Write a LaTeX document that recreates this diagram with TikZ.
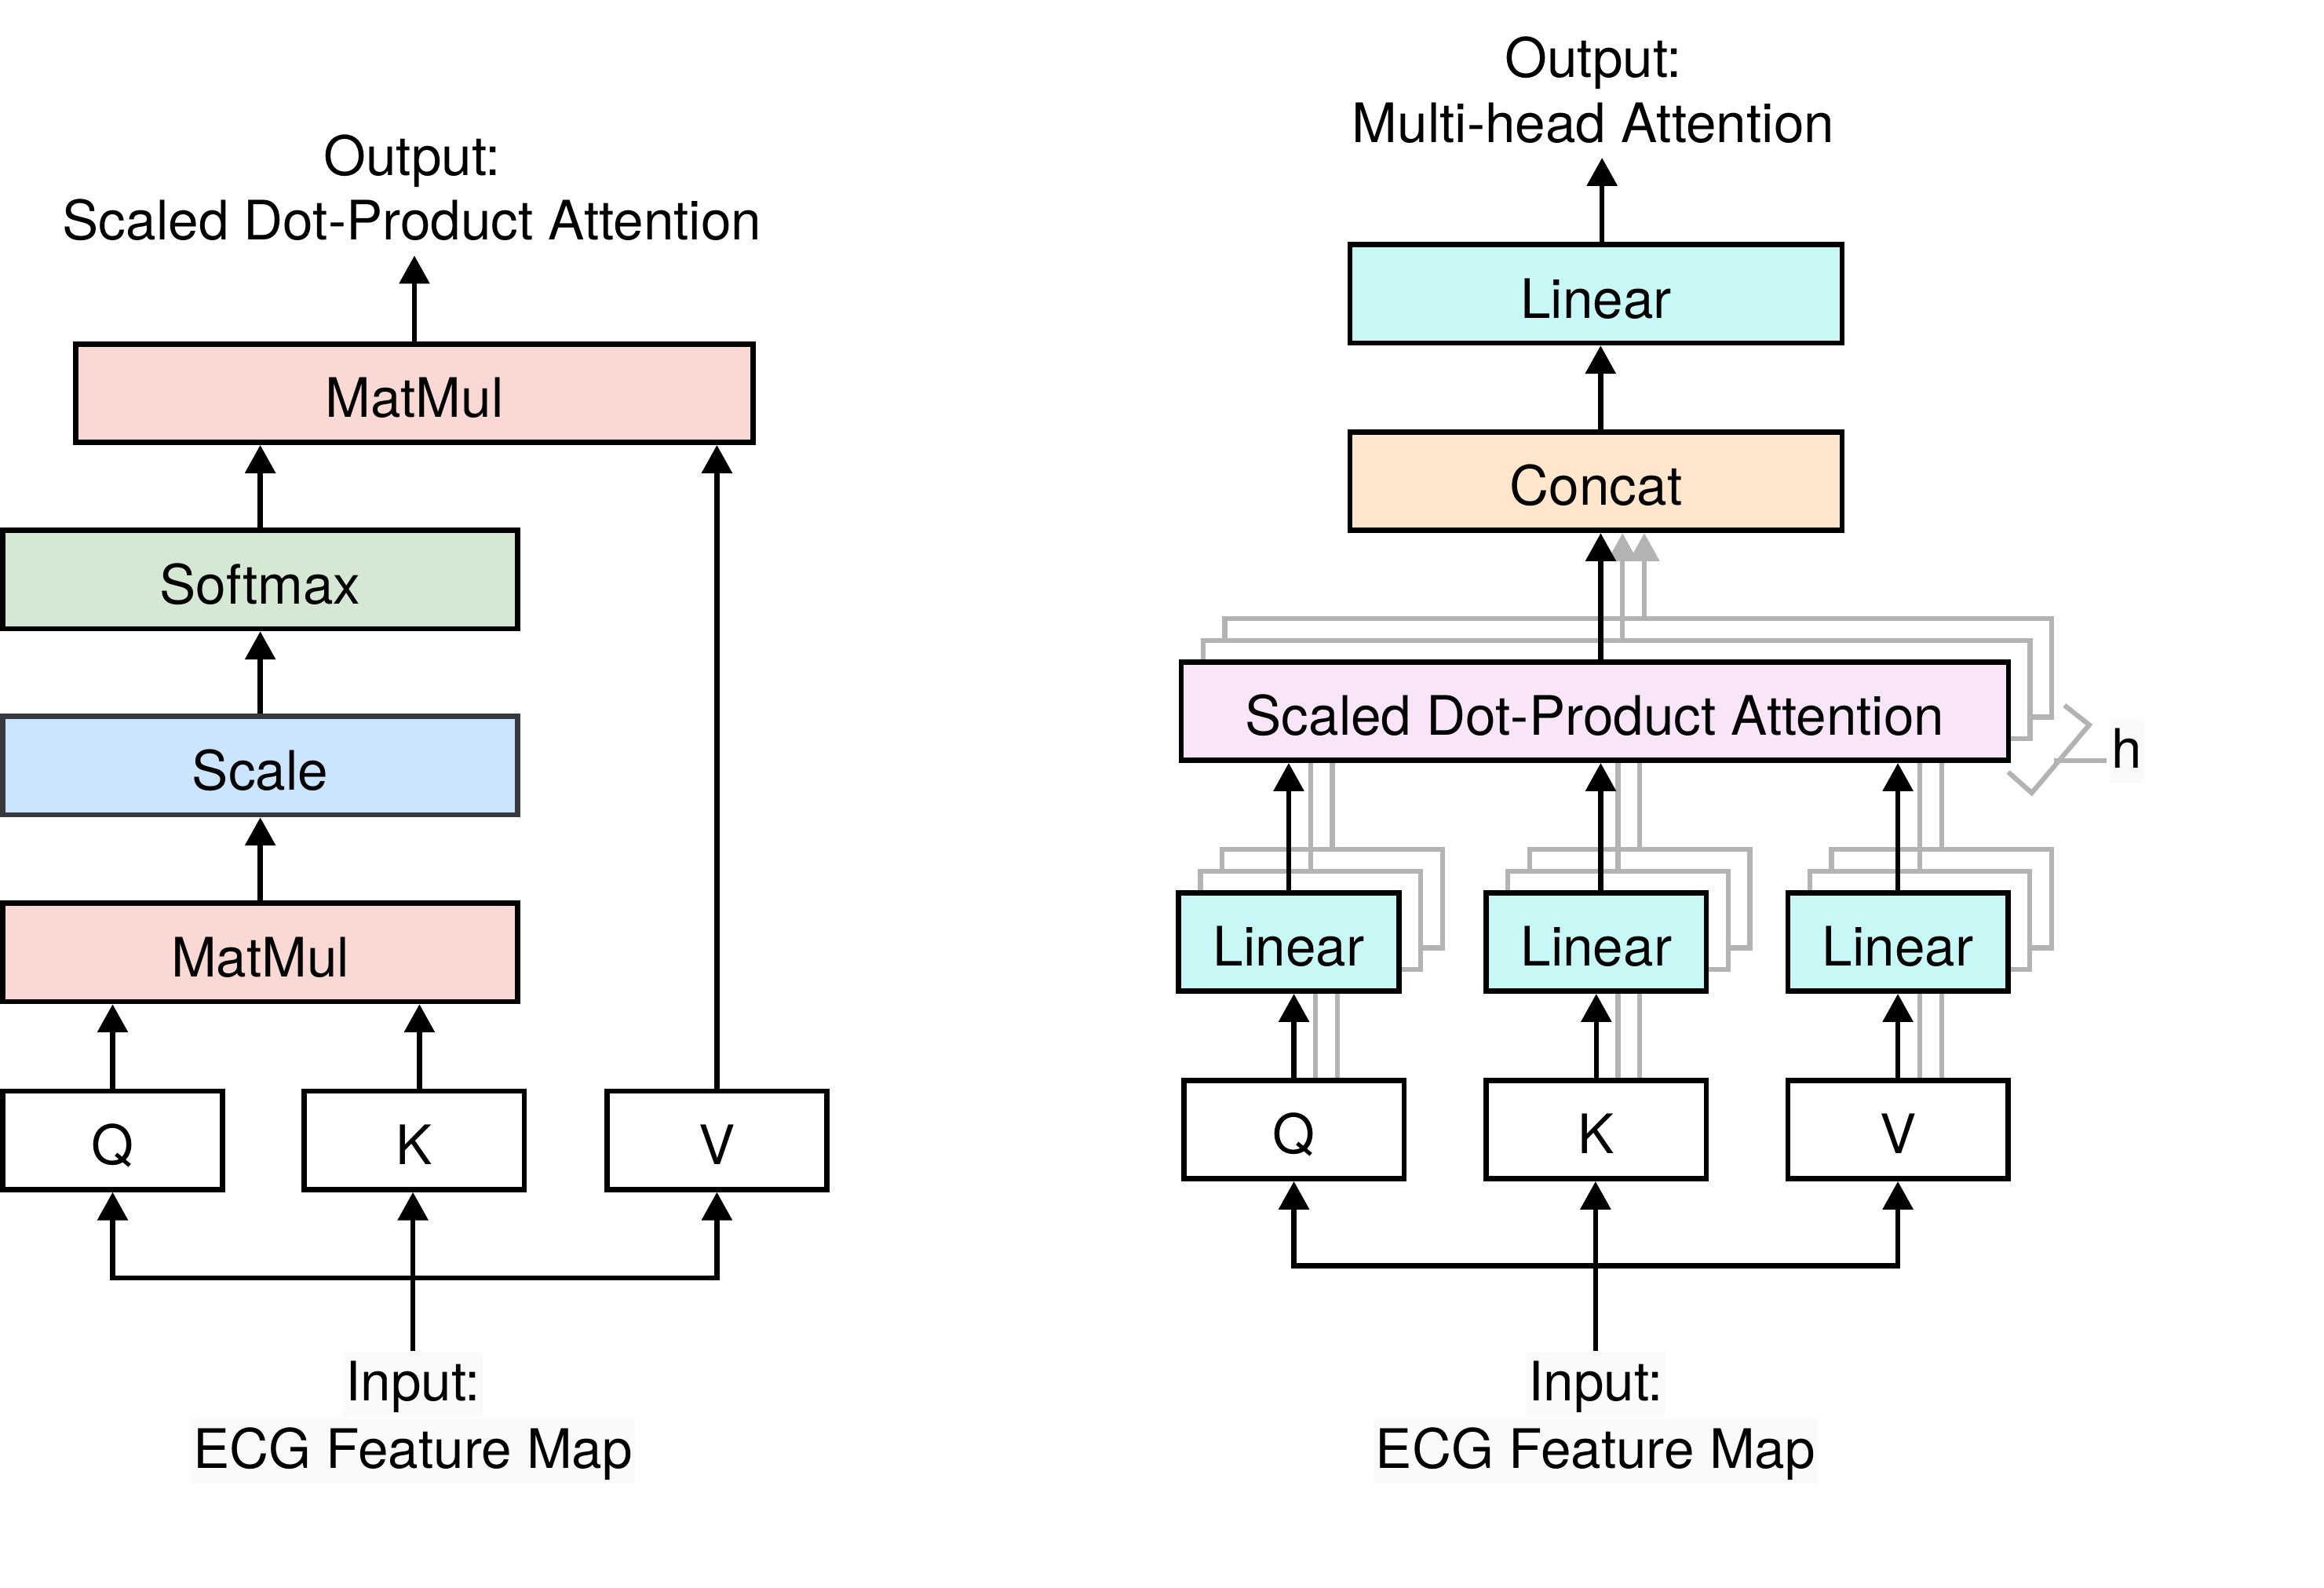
\documentclass[tikz,border=0pt]{standalone}
\usepackage{fontspec}
\setmainfont{TeX Gyre Heros}
\usetikzlibrary{arrows.meta,calc}
\definecolor{mmfill}{HTML}{FAD9D5}
\definecolor{smfill}{HTML}{D5E8D4}
\definecolor{scfill}{HTML}{CCE5FF}
\definecolor{scdraw}{HTML}{36393D}
\definecolor{linfill}{HTML}{C7F8F6}
\definecolor{catfill}{HTML}{FFE6CC}
\definecolor{sdfill}{HTML}{F8E6F8}
\definecolor{shade}{HTML}{B3B3B3}
\definecolor{lblbg}{HTML}{FAFAFA}
\begin{document}
\begin{tikzpicture}[x=1pt,y=-1pt,
  box/.style={draw=black, line width=3.5pt, inner sep=0pt, minimum height=66.3pt,
    text height=34pt, text depth=1.4pt, font=\fontsize{36.7}{44}\selectfont},
  ghost/.style={draw=shade, fill=white, line width=3.3pt, inner sep=0pt, minimum height=66.3pt},
  lbl/.style={inner xsep=1.5pt, inner ysep=2.5pt, text height=31pt, text depth=7.8pt,
    anchor=base, font=\fontsize{36.7}{44}\selectfont},
  arr/.style={line width=3.5pt, -{Triangle[length=19pt,width=20pt]}},
  garr/.style={draw=shade, line width=3.3pt, -{Triangle[length=19pt,width=20pt]}},
  gline/.style={draw=shade, line width=3.3pt}
]
\useasboundingbox (0,0) rectangle (1568,1071);

% ---------------- left: scaled dot-product attention ----------------
\node[box, fill=mmfill, minimum width=456.8pt] (mm2) at (279.6,265.3) {MatMul};
\node[box, fill=smfill, minimum width=347.5pt] (sm) at (175.6,391) {Softmax};
\node[box, fill=scfill, draw=scdraw, minimum width=347.5pt] (sc) at (175.6,516.5) {Scale};
\node[box, fill=mmfill, minimum width=347.5pt] (mm1) at (175.6,642.5) {MatMul};
\node[box, fill=white, minimum width=148.5pt] (qL) at (76,769.3) {Q};
\node[box, fill=white, minimum width=148.5pt] (kL) at (279.5,769.3) {K};
\node[box, fill=white, minimum width=148.5pt] (vL) at (483.7,769.3) {V};

\node[lbl] (outL1) at (278,118.2) {Output:};
\node[lbl] (outL2) at (278,161.9) {Scaled Dot-Product Attention};
\node[lbl, fill=lblbg] (inL1) at (278.6,945.2) {Input:};
\node[lbl, fill=lblbg] (inL2) at (278.6,990.6) {ECG Feature Map};

\draw[arr] (mm2.north) -- (mm2.north |- outL2.south);
\draw[arr] (sm.north) -- (sm.north |- mm2.south);
\draw[arr] (sc.north) -- (sm.south);
\draw[arr] (mm1.north) -- (sc.south);
\draw[arr] (qL.north) -- (qL.north |- mm1.south);
\draw[arr] ([xshift=3.5pt]kL.north) -- ([xshift=3.5pt]kL.north |- mm1.south);
\draw[arr] (vL.north) -- (vL.north |- mm2.south);
\coordinate (jL) at (278.6,862);
\draw[arr] (inL1.north) -- (inL1.north |- kL.south);
\draw[arr] (jL) -| (qL.south);
\draw[arr] (jL) -| (vL.south);

% ---------------- right: multi-head attention ----------------
\node[box, fill=linfill, minimum width=332pt] (linT) at (1076.9,198.2) {Linear};
\node[box, fill=catfill, minimum width=332pt] (cat) at (1076.9,324.7) {Concat};

\node[ghost, minimum width=558pt] (sdS2) at (1105.4,450.6) {};
\node[ghost, minimum width=558pt] (sdS1) at (1090.7,465.2) {};

\foreach \i/\lx/\qx/\t in {1/869.5/873/Q, 2/1077/1077/K, 3/1280.5/1280.5/V} {
  \node[ghost, minimum width=148.5pt] (lsB\i) at (\lx+29.4,635.5-29.2) {};
  \node[ghost, minimum width=148.5pt] (lsA\i) at (\lx+14.7,635.5-14.6) {};
  \node[box, fill=white, minimum width=148.5pt] (in\i) at (\qx,762) {\t};
  \draw[gline] ([xshift=14.7pt]in\i.north) -- ([xshift=14.7pt]in\i.north |- lsA\i.south);
  \draw[gline] ([xshift=29.4pt]in\i.north) -- ([xshift=29.4pt]in\i.north |- lsB\i.south);
  \draw[gline] (lsA\i.north) -- (lsA\i.north |- sdS1.south);
  \draw[gline] (lsB\i.north) -- (lsB\i.north |- sdS2.south);
  \node[box, fill=linfill, minimum width=148.5pt] (lin\i) at (\lx,635.5) {Linear};
}

\node[box, fill=sdfill, minimum width=558pt] (sd) at (1076,479.8) {Scaled Dot-Product Attention};

\draw[garr] ([xshift=33.4pt]sd.north |- sdS2.north) -- ([xshift=33.4pt]sd.north |- cat.south);
\draw[garr] ([xshift=18.7pt]sd.north |- sdS1.north) -- ([xshift=18.7pt]sd.north |- cat.south);

\node[lbl] (outR1) at (1075,52.2) {Output:};
\node[lbl] (outR2) at (1075,95.9) {Multi-head Attention};
\node[lbl, fill=lblbg] (inR1) at (1076.5,945.2) {Input:};
\node[lbl, fill=lblbg] (inR2) at (1076.5,990.6) {ECG Feature Map};

\draw[arr] ([xshift=4pt]sd.north) -- ([xshift=4pt]sd.north |- cat.south);
\draw[arr] ([xshift=3pt]cat.north) -- ([xshift=3pt]cat.north |- linT.south);
\draw[arr] ([xshift=4pt]linT.north) -- ([xshift=4pt]linT.north |- outR2.south);
\draw[arr] (lin1.north) -- (lin1.north |- sd.south);
\draw[arr] ([xshift=3pt]lin2.north) -- ([xshift=3pt]lin2.north |- sd.south);
\draw[arr] (lin3.north) -- (lin3.north |- sd.south);
\foreach \i in {1,2,3} {
  \draw[arr] (in\i.north) -- (in\i.north |- lin\i.south);
}
\coordinate (jR) at (1076.5,854);
\draw[arr] (inR1.north) -- (inR1.north |- in2.south);
\draw[arr] (jR) -| (in1.south);
\draw[arr] (jR) -| (in3.south);

% brace marking h heads
\draw[gline, line join=miter] (1392.9,475.8) -- (1409.6,489.0) -- (1370.8,534.9) -- (1354.9,520.8);
\draw[gline] (1385.8,513.2) -- (1421.5,513.2);
\node[lbl, fill=lblbg] (hl) at (1434.9,518) {h};
\end{tikzpicture}
\end{document}
